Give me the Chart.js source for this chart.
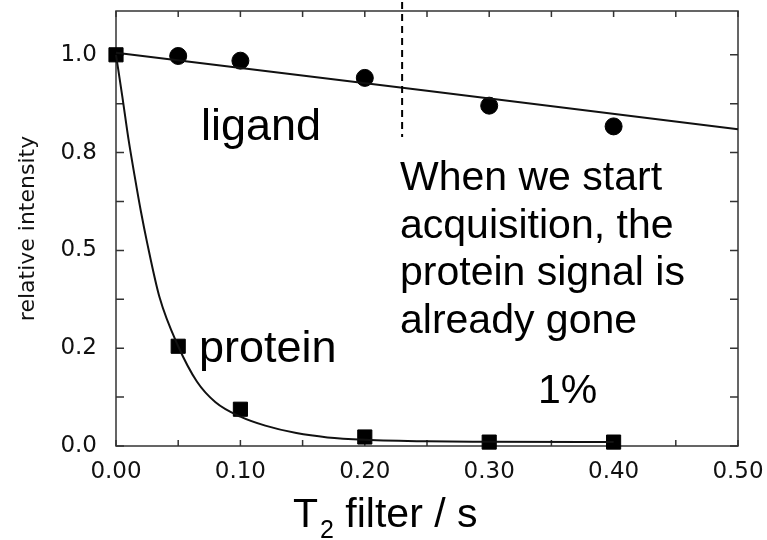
<!DOCTYPE html>
<html>
<head>
<meta charset="utf-8">
<script src="https://cdn.jsdelivr.net/npm/chart.js@4.4.1/dist/chart.umd.min.js"></script>
<style>
  html, body { margin: 0; padding: 0; background: #fff; }
  #wrap { width: 767px; height: 540px; }
</style>
</head>
<body>
<div id="wrap"><canvas id="c"></canvas></div>
<script>
// --- data ---
const filterTimes = [0, 0.05, 0.10, 0.20, 0.30, 0.40];
const ligandPoints = [1.0, 0.997, 0.985, 0.941, 0.870, 0.817];
const proteinPoints = [1.0, 0.255, 0.094, 0.023, 0.010, 0.010];

const ligandFitX = [0, 0.25, 0.50];
const ligandFitY = [1.005, 0.908, 0.810];

const proteinFitX = [0, 0.005, 0.01, 0.015, 0.02, 0.025, 0.035, 0.05, 0.065, 0.08, 0.10, 0.12, 0.145, 0.17, 0.20, 0.25, 0.30, 0.40];
const proteinFitY = [1.0, 0.895, 0.785, 0.69, 0.60, 0.52, 0.38, 0.255, 0.165, 0.112, 0.075, 0.052, 0.033, 0.022, 0.016, 0.012, 0.011, 0.010];

const xTickValues = [0, 0.1, 0.2, 0.3, 0.4, 0.5];
const xTickLabels = ['0.00', '0.10', '0.20', '0.30', '0.40', '0.50'];
const yTickValues = [0, 0.25, 0.5, 0.75, 1.0];
const yTickLabels = ['0.0', '0.2', '0.5', '0.8', '1.0'];

const pts = (xs, ys) => xs.map((x, i) => ({ x: x, y: ys[i] }));

// frame + inward ticks, annotations
const framePlugin = {
  id: 'frame',
  beforeDatasetsDraw(chart) {
    const { ctx, chartArea: a, scales: { x, y } } = chart;
    ctx.save();
    ctx.strokeStyle = '#333';
    ctx.lineWidth = 1.5;
    ctx.strokeRect(a.left, a.top, a.right - a.left, a.bottom - a.top);
    ctx.beginPath();
    for (let v = 0; v <= 0.5001; v += 0.05) {
      const px = x.getPixelForValue(v);
      ctx.moveTo(px, a.bottom); ctx.lineTo(px, a.bottom - 6);
      ctx.moveTo(px, a.top); ctx.lineTo(px, a.top + 6);
    }
    for (let v = 0; v <= 1.1; v += 0.125) {
      const py = y.getPixelForValue(v);
      ctx.moveTo(a.left, py); ctx.lineTo(a.left + 8, py);
      ctx.moveTo(a.right, py); ctx.lineTo(a.right - 8, py);
    }
    ctx.stroke();
    ctx.restore();
  },
  afterDraw(chart) {
    const { ctx, scales: { x, y } } = chart;
    ctx.save();
    // dashed marker: start of acquisition
    ctx.strokeStyle = '#000';
    ctx.lineWidth = 2;
    ctx.setLineDash([7, 5]);
    ctx.beginPath();
    ctx.moveTo(x.getPixelForValue(0.23), y.getPixelForValue(1.135));
    ctx.lineTo(x.getPixelForValue(0.23), y.getPixelForValue(0.79));
    ctx.stroke();
    ctx.setLineDash([]);

    ctx.fillStyle = '#000';
    ctx.textBaseline = 'alphabetic';
    ctx.textAlign = 'left';
    ctx.font = '45px "Liberation Sans", Arial, sans-serif';
    ctx.fillText('ligand', 201, 140);
    ctx.fillText('protein', 199, 362);

    ctx.font = '41px "Liberation Sans", Arial, sans-serif';
    const lines = ['When we start', 'acquisition, the', 'protein signal is', 'already gone'];
    lines.forEach((t, i) => ctx.fillText(t, 400, 190 + i * 47.5));
    ctx.fillText('1%', 538, 403);

    // x axis title with subscript
    ctx.font = '41px "Liberation Sans", Arial, sans-serif';
    ctx.fillText('T', 293, 527);
    let cx = 293 + ctx.measureText('T').width + 2;
    ctx.font = '25px "Liberation Sans", Arial, sans-serif';
    ctx.fillText('2', cx, 538);
    cx += ctx.measureText('2').width;
    ctx.font = '41px "Liberation Sans", Arial, sans-serif';
    ctx.fillText(' filter / s', cx, 527);
    ctx.restore();
  }
};

const noPad = s => { s.paddingTop = 0; s.paddingBottom = 0; s.paddingLeft = 0; s.paddingRight = 0; };

new Chart(document.getElementById('c'), {
  type: 'scatter',
  data: {
    datasets: [
      {
        label: 'ligand fit', data: pts(ligandFitX, ligandFitY), showLine: true,
        borderColor: '#111', borderWidth: 2, pointRadius: 0, tension: 0, clip: false
      },
      {
        label: 'protein fit', data: pts(proteinFitX, proteinFitY), showLine: true,
        borderColor: '#111', borderWidth: 2, pointRadius: 0, cubicInterpolationMode: 'monotone', clip: false
      },
      {
        label: 'ligand', data: pts(filterTimes.slice(1), ligandPoints.slice(1)),
        pointStyle: 'circle', pointRadius: 8.5, backgroundColor: '#000', borderColor: '#000', clip: false
      },
      {
        label: 'protein', data: pts(filterTimes, proteinPoints),
        pointStyle: 'rect', pointRadius: 10, backgroundColor: '#000', borderColor: '#000', clip: false
      }
    ]
  },
  options: {
    responsive: true,
    maintainAspectRatio: false,
    animation: false,
    layout: { padding: { top: 9, right: 29, left: 0, bottom: 0 } },
    plugins: { legend: { display: false }, tooltip: { enabled: false } },
    scales: {
      x: {
        type: 'linear', min: 0, max: 0.5,
        afterBuildTicks: s => { s.ticks = xTickValues.map(v => ({ value: v })); },
        afterFit: s => { s.height = 94; noPad(s); },
        grid: { display: false, drawTicks: false },
        border: { display: false },
        ticks: {
          padding: 12, color: '#111', maxRotation: 0,
          font: { family: '"DejaVu Sans", sans-serif', size: 23 },
          callback: (v, i) => xTickLabels[i]
        }
      },
      y: {
        type: 'linear', min: 0, max: 1.112,
        afterBuildTicks: s => { s.ticks = yTickValues.map(v => ({ value: v })); },
        afterFit: s => { s.width = 116; noPad(s); },
        grid: { display: false, drawTicks: false },
        border: { display: false },
        title: {
          display: true, text: 'relative intensity', color: '#111',
          font: { family: '"DejaVu Sans", sans-serif', size: 22 },
          padding: { top: 15, bottom: 0 }
        },
        ticks: {
          padding: 19, color: '#111',
          font: { family: '"DejaVu Sans", sans-serif', size: 23 },
          callback: (v, i) => yTickLabels[i]
        }
      }
    }
  },
  plugins: [framePlugin]
});
</script>
</body>
</html>
